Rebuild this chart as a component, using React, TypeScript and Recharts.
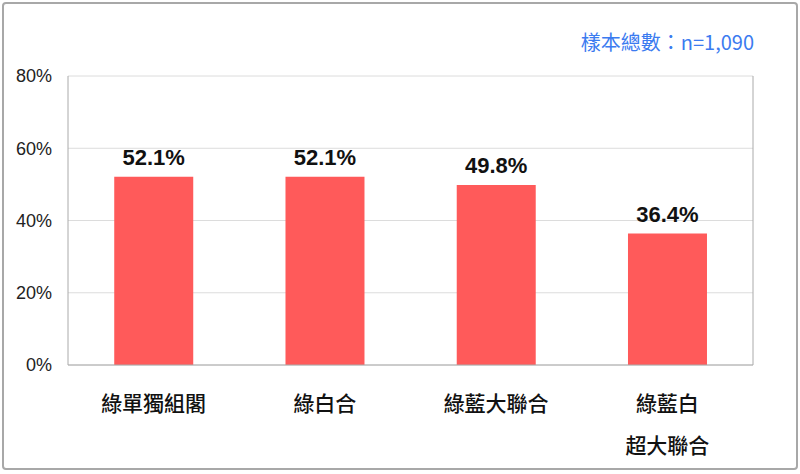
import { BarChart, Bar, XAxis, YAxis, CartesianGrid, LabelList } from "recharts";

const categories = ["綠單獨組閣", "綠白合", "綠藍大聯合", "綠藍白\n超大聯合"];
const values = [52.1, 52.1, 49.8, 36.4];
const yTicks = [0, 20, 40, 60, 80];
const sampleNote = "樣本總數：n=1,090";

const data = categories.map((name, i) => ({ name, value: values[i] }));

const CategoryTick = (props: any) => {
  const { x, y, payload } = props;
  const lines = String(payload.value).split("\n");
  return (
    <g transform={`translate(${x},${y})`}>
      {lines.map((line: string, i: number) => (
        <text
          key={i}
          x={0}
          y={38 + i * 42}
          textAnchor="middle"
          fontSize={21}
          fill="#111"
          fontFamily="'Noto Sans CJK TC', sans-serif"
          fontWeight={500}
        >
          {line}
        </text>
      ))}
    </g>
  );
};

const App = () => {
  return (
    <div style={{ position: "absolute", left: 0, top: 0, width: 800, height: 474, background: "#fff" }}>
      <div
        style={{
          position: "absolute",
          left: 2,
          top: 2,
          width: 792,
          height: 464,
          border: "2px solid #a8a8a8",
          borderRadius: 4,
        }}
      />
      <div
        style={{
          position: "absolute",
          right: 46,
          top: 29,
          color: "#3b7bf0",
          fontSize: 20,
          fontFamily: "'Noto Sans CJK TC', sans-serif",
          lineHeight: "26px",
        }}
      >
        {sampleNote}
      </div>
      <BarChart
        width={800}
        height={474}
        data={data}
        margin={{ top: 76, right: 46, left: 8, bottom: 19 }}
        barCategoryGap="27%"
        style={{ position: "absolute", left: 0, top: 0 }}
      >
        <CartesianGrid vertical={false} stroke="#dcdcdc" />
        <XAxis
          dataKey="name"
          interval={0}
          height={90}
          axisLine={{ stroke: "#aaaaaa" }}
          tickLine={false}
          tick={<CategoryTick />}
        />
        <XAxis xAxisId="top" orientation="top" dataKey="name" height={0} tick={false} tickLine={false} axisLine={{ stroke: "#aaaaaa" }} />
        <YAxis
          domain={[0, 80]}
          ticks={yTicks}
          width={60}
          tickLine={false}
          tickMargin={10}
          axisLine={{ stroke: "#aaaaaa" }}
          tickFormatter={(v: number) => `${v}%`}
          tick={{ fontSize: 18, fill: "#222", fontFamily: "'Liberation Sans', Arial, sans-serif" }}
        />
        <YAxis
          yAxisId="right"
          orientation="right"
          domain={[0, 80]}
          width={1}
          tick={false}
          tickLine={false}
          axisLine={{ stroke: "#aaaaaa" }}
        />
        <Bar dataKey="value" fill="#ff5a5a" isAnimationActive={false}>
          <LabelList
            dataKey="value"
            position="top"
            offset={12}
            formatter={(v: any) => `${Number(v).toFixed(1)}%`}
            style={{ fontSize: 22, fontWeight: "bold", fill: "#111", fontFamily: "'Liberation Sans', Arial, sans-serif" }}
          />
        </Bar>
        <Bar yAxisId="right" dataKey="value" fill="none" hide isAnimationActive={false} />
      </BarChart>
    </div>
  );
};

export default App;
